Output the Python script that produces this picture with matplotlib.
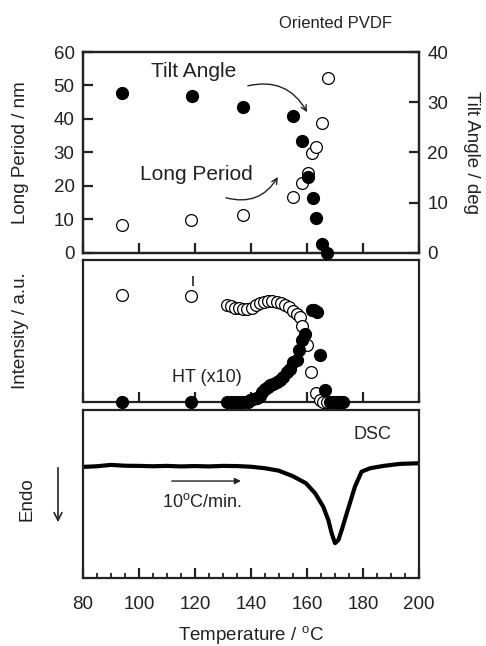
import numpy as np
import matplotlib
matplotlib.use("Agg")
import matplotlib.pyplot as plt
from matplotlib.ticker import MultipleLocator

plt.rcParams['font.family'] = ['Liberation Sans', 'DejaVu Sans']
txt = '#222222'

# --- top panel: long period (open, left axis) and tilt angle (filled, right axis)
lp_T = [93.8, 118.6, 137.0, 154.9, 158.3, 160.5, 161.9, 163.2, 165.4, 167.4]
lp_nm = [8.4, 9.9, 11.3, 16.8, 21.0, 24.0, 29.9, 31.7, 38.9, 52.3]
tilt_T = [93.8, 118.8, 137.0, 154.9, 158.3, 160.5, 162.0, 163.2, 165.4, 167.2]
tilt_deg = [31.9, 31.2, 29.1, 27.3, 22.2, 15.2, 10.9, 6.9, 1.7, 0.0]

# --- middle panel: intensities
int_open_T = [93.8, 118.6, 131.3, 132.7, 134.3, 135.8, 137.3, 138.7, 140.2, 141.8,
              143.2, 144.6, 146.2, 147.6, 149.2, 150.6, 152.1, 153.7, 155.1, 156.4,
              157.5, 158.3, 159.9, 161.4, 163.2, 164.6, 165.8, 167.0]
int_open = [0.747, 0.736, 0.673, 0.666, 0.657, 0.652, 0.650, 0.650, 0.657, 0.673,
            0.689, 0.698, 0.703, 0.703, 0.698, 0.689, 0.677, 0.661, 0.638, 0.615,
            0.59, 0.53, 0.40, 0.21, 0.06, 0.015, 0.0, 0.0]
ht_T = [93.8, 118.6, 131.3, 132.8, 134.3, 135.8, 137.3, 138.8, 139.6, 140.8,
        142.0, 143.2, 144.0, 145.0, 146.0, 146.8, 148.0, 149.2, 150.4, 151.5,
        152.7, 153.9, 155.1, 156.3, 157.2, 158.1, 159.3, 161.7, 162.5, 163.5,
        164.6, 166.4, 168.2, 169.4, 170.6, 171.8, 173.0]
ht_int = [0, 0, 0, 0, 0, 0, 0, 0, 0.012, 0.018,
          0.025, 0.045, 0.07, 0.093, 0.105, 0.116, 0.128, 0.139, 0.155, 0.174,
          0.209, 0.232, 0.279, 0.29, 0.36, 0.429, 0.476, 0.643, 0.64, 0.627,
          0.325, 0.081, 0, 0, 0, 0, 0]
err_T = [119.4]
err_lo = [0.81]
err_hi = [0.88]

# --- bottom panel: DSC trace
dsc_T = [80, 85, 90, 95, 100, 105, 110, 115, 120, 125, 130, 135, 140, 145,
         149.8, 154.8, 159.6, 162.9, 165.8, 167.6, 168.8, 170.0, 171.2, 172.4,
         174.2, 177.1, 179.5, 182.5, 187.3, 193.2, 200]
dsc_val = [0.661, 0.665, 0.673, 0.668, 0.667, 0.665, 0.667, 0.664, 0.666, 0.664,
           0.667, 0.666, 0.662, 0.653, 0.639, 0.607, 0.564, 0.504, 0.424, 0.345,
           0.266, 0.207, 0.226, 0.286, 0.385, 0.543, 0.633, 0.653, 0.667, 0.679, 0.683]

fig = plt.figure(figsize=(4.86, 6.46), dpi=100)
L, W = 0.1708, 0.6914
ax1 = fig.add_axes([L, 0.6084, W, 0.3111])
ax2 = fig.add_axes([L, 0.3777, W, 0.2198])
ax3 = fig.add_axes([L, 0.1053, W, 0.2601])

fs = 13.5
for ax in (ax1, ax2, ax3):
    ax.set_xlim(80, 200)
    for s in ax.spines.values():
        s.set_linewidth(1.6)
        s.set_color(txt)
    ax.xaxis.set_major_locator(MultipleLocator(20))
    ax.tick_params(axis='x', direction='in', length=7, width=1.6, color=txt,
                   top=False, labelbottom=False)

# top panel
ax1.set_ylim(0, 60)
ax1.set_yticks(np.arange(0, 61, 10))
ax1.tick_params(axis='y', direction='in', length=7, width=1.6, color=txt,
                labelsize=fs, labelcolor=txt, pad=6)
ax1.plot(lp_T, lp_nm, 'o', ms=8.5, mfc='white', mec='black', mew=0.9, clip_on=False, zorder=3)
ax1r = ax1.twinx()
ax1r.set_ylim(0, 40)
ax1r.set_yticks(np.arange(0, 41, 10))
ax1r.tick_params(axis='y', direction='in', length=7, width=1.6, color=txt,
                 labelsize=fs, labelcolor=txt, pad=6)
for s in ax1r.spines.values():
    s.set_linewidth(1.6)
    s.set_color(txt)
ax1r.plot(tilt_T, tilt_deg, 'o', ms=8.5, color='black', clip_on=False, zorder=4)
ax1.set_ylabel('Long Period / nm', fontsize=fs, color=txt)
ax1.yaxis.set_label_coords(-0.16, 0.5)
ax1r.set_ylabel('Tilt Angle / deg', fontsize=fs, color=txt, rotation=270)
ax1r.yaxis.set_label_coords(1.18, 0.5)

ax1.text(119.5, 54.2, 'Tilt Angle', fontsize=15, color=txt, ha='center', va='center')
ax1.annotate('', xy=(160.5, 41.3), xytext=(137.9, 49.7),
             arrowprops=dict(arrowstyle='->', lw=1.0, color=txt,
                             connectionstyle='arc3,rad=-0.4'))
ax1.text(120.6, 23.4, 'Long Period', fontsize=15, color=txt, ha='center', va='center')
ax1.annotate('', xy=(150.1, 23.4), xytext=(130.1, 16.7),
             arrowprops=dict(arrowstyle='->', lw=1.0, color=txt,
                             connectionstyle='arc3,rad=0.4'))

# middle panel
ax2.set_ylim(0, 0.99)
ax2.set_yticks([])
ax2.plot(int_open_T, int_open, 'o', ms=8.5, mfc='white', mec='black', mew=0.9, clip_on=False, zorder=3)
ax2.plot(ht_T, ht_int, 'o', ms=8.5, color='black', clip_on=False, zorder=4)
ax2.vlines(err_T, err_lo, err_hi, color=txt, lw=1.2)
ax2.text(124.3, 0.174, 'HT (x10)', fontsize=13, color=txt, ha='center', va='center')
ax2.set_ylabel('Intensity / a.u.', fontsize=fs, color=txt)
ax2.yaxis.set_label_coords(-0.16, 0.5)

# bottom panel
ax3.set_ylim(0, 1)
ax3.set_yticks([])
ax3.plot(dsc_T, dsc_val, color='black', lw=3.0, solid_capstyle='butt')
ax3.xaxis.set_minor_locator(MultipleLocator(5))
ax3.tick_params(axis='x', which='major', labelbottom=True, labelsize=fs,
                labelcolor=txt, pad=13, length=7)
ax3.tick_params(axis='x', which='minor', direction='in', length=3.5, width=1.3,
                color=txt, top=False)
ax3.set_xlabel('Temperature / $^{\\mathregular{o}}$C', fontsize=fs, color=txt, labelpad=8)
ax3.text(183.2, 0.851, 'DSC', fontsize=13, color=txt, ha='center', va='center')
ax3.annotate('', xy=(137.4, 0.577), xytext=(110.7, 0.577),
             arrowprops=dict(arrowstyle='-|>', lw=1.0, color=txt, mutation_scale=9))
ax3.text(122.6, 0.454, '10$^{\\mathregular{o}}$C/min.', fontsize=13, color=txt,
         ha='center', va='center')

fig.text(27 / 486, 1 - 499 / 646, 'Endo', fontsize=fs, color=txt, rotation=90,
         ha='center', va='center')
fig.patches.append(matplotlib.patches.FancyArrowPatch(
    (58 / 486, 1 - 465 / 646), (58 / 486, 1 - 525 / 646), transform=fig.transFigure,
    arrowstyle='->', mutation_scale=14, lw=1.2, color=txt))

fig.text(335 / 486, 1 - 23 / 646, 'Oriented PVDF', fontsize=12, color=txt,
         ha='center', va='center')

fig.savefig('out.png', dpi=100)
